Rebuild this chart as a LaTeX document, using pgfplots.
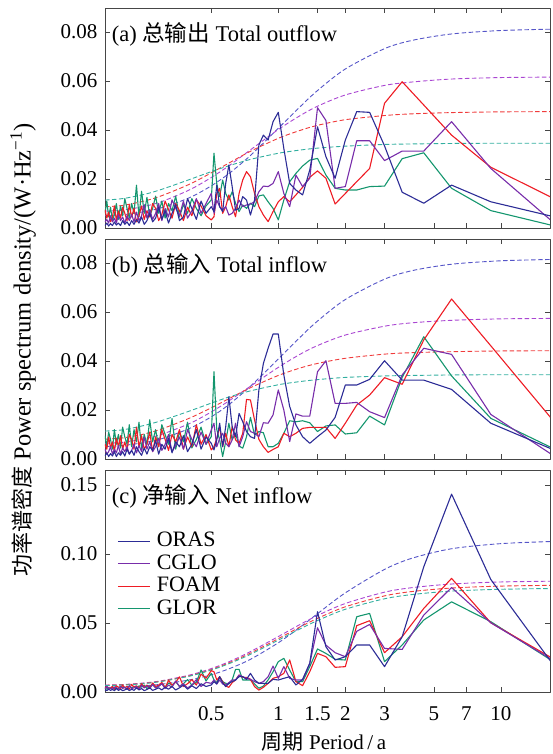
\documentclass[border=0pt]{standalone}
\usepackage{fontspec}
\setmainfont{Liberation Serif}
\newfontfamily\cjk{Noto Sans CJK SC}
\usepackage{pgfplots}
\usepackage{pgfplotstable}
\pgfplotsset{compat=1.18}
\definecolor{oras}{RGB}{44,44,150}
\definecolor{cglo}{RGB}{120,45,170}
\definecolor{foam}{RGB}{238,28,36}
\definecolor{glor}{RGB}{20,150,110}
\definecolor{orasd}{RGB}{85,85,200}
\definecolor{cglod}{RGB}{170,70,210}
\definecolor{foamd}{RGB}{240,60,60}
\definecolor{glord}{RGB}{50,175,160}
\definecolor{axgray}{RGB}{70,70,70}

% solid spectra: k = harmonic, period = 18/k years
\pgfplotstableread{
k o c f g
1 0.0042 0.0007 0.0112 0.0005
2 0.0107 0.0243 0.0248 0.0071
3 0.0175 0.0434 0.0379 0.0162
4 0.0101 0.0314 0.0502 0.0307
5 0.0146 0.0314 0.0597 0.0283
6 0.0335 0.0275 0.0509 0.0171
7 0.0472 0.0356 0.0243 0.0169
8 0.0475 0.0356 0.0189 0.0155
9 0.0359 0.0169 0.0141 0.0155
10 0.0203 0.0162 0.0098 0.0162
11 0.0291 0.0439 0.0203 0.0216
12 0.0413 0.0491 0.0233 0.0284
13 0.0237 0.0203 0.0207 0.0277
14 0.0135 0.0169 0.0166 0.0253
15 0.0155 0.0216 0.0135 0.0223
16 0.0182 0.0087 0.0107 0.0189
17 0.0325 0.0141 0.0128 0.0114
18 0.0472 0.0230 0.0107 0.0033
19 0.0434 0.0182 0.0067 0.0080
20 0.0359 0.0169 0.0026 0.0107
21 0.0379 0.0171 0.0053 0.0135
22 0.0339 0.0148 0.0087 0.0131
23 0.0114 0.0107 0.0141 0.0087
24 0.0053 0.0098 0.0209 0.0101
25 0.0114 0.0094 0.0230 0.0080
26 0.0128 0.0087 0.0196 0.0094
27 0.0080 0.0114 0.0141 0.0067
28 0.0073 0.0080 0.0046 0.0101
29 0.0169 0.0060 0.0087 0.0148
30 0.0257 0.0053 0.0135 0.0114
31 0.0182 0.0087 0.0087 0.0141
32 0.0067 0.0073 0.0060 0.0196
33 0.0087 0.0087 0.0162 0.0128
34 0.0175 0.0114 0.0141 0.0180
35 0.0067 0.0060 0.0046 0.0305
36 0.0087 0.0141 0.0033 0.0114
38 .0060 .0100 .0050 .0090
40 .0110 .0060 .0090 .0050
42 .0035 .0120 .0115 .0080
44 .0080 .0070 .0050 .0120
46 .0120 .0040 .0085 .0060
48 .0045 .0110 .0030 .0095
50 .0030 .0050 .0070 .0045
52 .0095 .0080 .0100 .0130
54 .0060 .0115 .0040 .0070
56 .0020 .0045 .0075 .0100
58 .0070 .0080 .0110 .0040
60 .0035 .0030 .0055 .0110
62 .0085 .0100 .0030 .0060
64 .0040 .0060 .0080 .0130
66 .0025 .0035 .0100 .0080
68 .0060 .0075 .0045 .0050
70 .0030 .0040 .0070 .0125
72 .0015 .0095 .0035 .0060
74 .0045 .0050 .0090 .0150
76 .0020 .0030 .0050 .0045
78 .0035 .0065 .0025 .0175
80 .0015 .0025 .0080 .0060
82 .0030 .0055 .0045 .0100
84 .0010 .0030 .0095 .0040
86 .0025 .0050 .0030 .0080
88 .0015 .0020 .0060 .0120
90 .0030 .0045 .0085 .0050
92 .0010 .0030 .0040 .0090
94 .0020 .0055 .0070 .0035
96 .0012 .0020 .0030 .0100
98 .0025 .0040 .0090 .0055
100 .0010 .0025 .0045 .0030
102 .0018 .0050 .0025 .0085
104 .0008 .0020 .0065 .0045
106 .0020 .0035 .0040 .0110
108 .0010 .0025 .0075 .0060
}\tA

\pgfplotstableread{
k o c f g
1 0.0030 0.0002 0.0134 0.0034
2 0.0146 0.0182 0.0462 0.0166
3 0.0284 0.0427 0.0653 0.0339
4 0.0322 0.0452 0.0486 0.0499
5 0.0322 0.0343 0.0305 0.0333
6 0.0401 0.0169 0.0332 0.0139
7 0.0325 0.0193 0.0261 0.0175
8 0.0302 0.0231 0.0220 0.0107
9 0.0302 0.0227 0.0146 0.0102
10 0.0170 0.0227 0.0084 0.0139
11 0.0118 0.0401 0.0129 0.0135
12 0.0091 0.0356 0.0129 0.0112
13 0.0064 0.0175 0.0129 0.0148
14 0.0091 0.0175 0.0125 0.0156
15 0.0139 0.0184 0.0105 0.0152
16 0.0214 0.0071 0.0091 0.0156
17 0.0343 0.0200 0.0105 0.0105
18 0.0510 0.0282 0.0050 0.0064
19 0.0510 0.0180 0.0039 0.0050
20 0.0452 0.0146 0.0027 0.0050
21 0.0390 0.0148 0.0050 0.0107
22 0.0282 0.0091 0.0080 0.0112
23 0.0084 0.0105 0.0159 0.0098
24 0.0091 0.0112 0.0241 0.0170
25 0.0112 0.0152 0.0243 0.0091
26 0.0152 0.0091 0.0105 0.0044
27 0.0186 0.0050 0.0064 0.0053
28 0.0091 0.0146 0.0078 0.0105
29 0.0132 0.0078 0.0132 0.0078
30 0.0254 0.0050 0.0050 0.0146
31 0.0132 0.0064 0.0105 0.0071
32 0.0050 0.0105 0.0050 0.0010
33 0.0146 0.0084 0.0132 0.0078
34 0.0078 0.0050 0.0084 0.0120
35 0.0037 0.0146 0.0050 0.0356
36 0.0064 0.0118 0.0037 0.0091
38 .0090 .0060 .0100 .0060
40 .0040 .0110 .0060 .0130
42 .0120 .0050 .0140 .0080
44 .0060 .0080 .0050 .0045
46 .0030 .0120 .0090 .0150
48 .0095 .0040 .0040 .0070
50 .0050 .0090 .0120 .0110
52 .0070 .0055 .0070 .0040
54 .0025 .0030 .0100 .0165
56 .0085 .0100 .0035 .0060
58 .0040 .0060 .0080 .0100
60 .0060 .0035 .0120 .0140
62 .0020 .0085 .0050 .0050
64 .0075 .0050 .0090 .0120
66 .0035 .0030 .0030 .0070
68 .0050 .0070 .0110 .0160
70 .0020 .0040 .0060 .0060
72 .0045 .0090 .0040 .0100
74 .0015 .0030 .0095 .0040
76 .0030 .0055 .0050 .0150
78 .0050 .0025 .0130 .0070
80 .0015 .0060 .0040 .0120
82 .0035 .0035 .0080 .0050
84 .0020 .0020 .0100 .0140
86 .0040 .0050 .0035 .0060
88 .0012 .0030 .0070 .0090
90 .0030 .0045 .0040 .0130
92 .0015 .0020 .0095 .0045
94 .0025 .0055 .0050 .0100
96 .0010 .0025 .0085 .0060
98 .0030 .0040 .0030 .0120
100 .0012 .0020 .0070 .0040
102 .0022 .0050 .0045 .0080
104 .0010 .0030 .0090 .0110
106 .0025 .0020 .0040 .0050
108 .0012 .0040 .0060 .0095
}\tB

\pgfplotstableread{
k o c f g
1 0.0152 0.0209 0.0222 0.0200
2 0.0816 0.0502 0.0502 0.0510
3 0.1435 0.0758 0.0824 0.0654
4 0.0908 0.0558 0.0606 0.0522
5 0.0401 0.0309 0.0401 0.0341
6 0.0184 0.0316 0.0285 0.0220
7 0.0341 0.0490 0.0517 0.0570
8 0.0341 0.0440 0.0481 0.0546
9 0.0256 0.0256 0.0184 0.0232
10 0.0232 0.0285 0.0179 0.0237
11 0.0328 0.0340 0.0256 0.0280
12 0.0582 0.0466 0.0280 0.0312
13 0.0208 0.0208 0.0147 0.0184
14 0.0092 0.0087 0.0046 0.0075
15 0.0051 0.0087 0.0075 0.0075
16 0.0111 0.0099 0.0232 0.0159
17 0.0099 0.0184 0.0135 0.0244
18 0.0087 0.0099 0.0111 0.0220
19 0.0092 0.0188 0.0099 0.0147
20 0.0063 0.0111 0.0063 0.0087
21 0.0063 0.0075 0.0034 0.0043
22 0.0063 0.0063 0.0014 0.0027
23 0.0087 0.0075 0.0039 0.0058
24 0.0135 0.0092 0.0092 0.0087
25 0.0092 0.0099 0.0106 0.0087
26 0.0111 0.0111 0.0106 0.0087
27 0.0111 0.0123 0.0123 0.0164
28 0.0087 0.0087 0.0087 0.0164
29 0.0075 0.0087 0.0068 0.0087
30 0.0063 0.0068 0.0034 0.0058
31 0.0039 0.0051 0.0043 0.0063
32 0.0068 0.0058 0.0075 0.0075
33 0.0111 0.0087 0.0111 0.0111
34 0.0058 0.0058 0.0087 0.0068
35 0.0075 0.0087 0.0147 0.0087
36 0.0051 0.0063 0.0155 0.0135
38 .0040 .0070 .0100 .0080
40 .0060 .0040 .0130 .0160
42 .0025 .0090 .0050 .0070
44 .0045 .0050 .0090 .0050
46 .0020 .0030 .0060 .0090
48 .0050 .0060 .0040 .0060
50 .0030 .0040 .0110 .0040
52 .0015 .0080 .0070 .0075
54 .0040 .0035 .0050 .0050
56 .0020 .0050 .0085 .0065
58 .0035 .0025 .0030 .0035
60 .0015 .0060 .0070 .0060
62 .0030 .0040 .0050 .0045
64 .0020 .0030 .0040 .0030
66 .0012 .0055 .0065 .0055
68 .0030 .0025 .0030 .0040
70 .0018 .0045 .0050 .0025
72 .0010 .0030 .0035 .0050
74 .0025 .0050 .0060 .0035
76 .0015 .0020 .0025 .0045
78 .0030 .0040 .0045 .0025
80 .0012 .0030 .0035 .0040
82 .0020 .0025 .0055 .0030
84 .0010 .0045 .0020 .0045
86 .0025 .0020 .0040 .0020
88 .0015 .0035 .0030 .0035
90 .0010 .0025 .0050 .0030
92 .0020 .0040 .0025 .0040
94 .0012 .0020 .0035 .0025
96 .0025 .0030 .0045 .0030
98 .0010 .0035 .0020 .0020
100 .0018 .0020 .0040 .0035
102 .0012 .0030 .0030 .0025
104 .0020 .0025 .0025 .0030
106 .0010 .0040 .0040 .0020
108 .0015 .0020 .0030 .0030
}\tC

% dashed red-noise reference curves (period in years)
\pgfplotstableread{
p o c f g
0.1667 0.0051 0.0069 0.0087 0.0114
0.2 0.0054 0.0073 0.0092 0.0120
0.25 0.0067 0.0088 0.0110 0.0137
0.3 0.0083 0.0108 0.0132 0.0158
0.4 0.0124 0.0156 0.0179 0.0198
0.5 0.0172 0.0206 0.0225 0.0230
0.6 0.0222 0.0254 0.0265 0.0254
0.75 0.0296 0.0319 0.0313 0.0280
1 0.0407 0.0402 0.0366 0.0305
1.25 0.0494 0.0458 0.0398 0.0318
1.5 0.0561 0.0497 0.0419 0.0326
2 0.0649 0.0543 0.0442 0.0334
3 0.0732 0.0582 0.0459 0.0341
4 0.0766 0.0596 0.0466 0.0343
6 0.0792 0.0608 0.0471 0.0345
10 0.0806 0.0614 0.0474 0.0346
18 0.0812 0.0616 0.0475 0.0346
}\dA
\pgfplotstableread{
p o c f g
0.1667 0.0051 0.0064 0.0081 0.0114
0.2 0.0055 0.0068 0.0086 0.0119
0.25 0.0067 0.0082 0.0102 0.0137
0.3 0.0083 0.0101 0.0123 0.0157
0.4 0.0125 0.0145 0.0167 0.0196
0.5 0.0172 0.0192 0.0209 0.0228
0.6 0.0222 0.0237 0.0246 0.0253
0.75 0.0297 0.0297 0.0291 0.0278
1 0.0408 0.0374 0.0341 0.0303
1.25 0.0496 0.0427 0.0371 0.0316
1.5 0.0563 0.0463 0.0390 0.0324
2 0.0651 0.0506 0.0411 0.0333
3 0.0734 0.0542 0.0428 0.0339
4 0.0769 0.0556 0.0434 0.0341
6 0.0795 0.0566 0.0438 0.0343
10 0.0809 0.0572 0.0441 0.0344
18 0.0815 0.0574 0.0442 0.0344
}\dB
\pgfplotstableread{
p o c f g
0.1667 0.0034 0.0050 0.0049 0.0047
0.2 0.0037 0.0054 0.0052 0.0050
0.25 0.0045 0.0066 0.0063 0.0061
0.3 0.0057 0.0082 0.0079 0.0077
0.4 0.0088 0.0123 0.0118 0.0115
0.5 0.0125 0.0170 0.0163 0.0159
0.6 0.0168 0.0219 0.0211 0.0205
0.75 0.0237 0.0293 0.0282 0.0273
1 0.0357 0.0402 0.0387 0.0376
1.25 0.0469 0.0489 0.0471 0.0457
1.5 0.0568 0.0555 0.0534 0.0518
2 0.0719 0.0642 0.0618 0.0600
3 0.0889 0.0724 0.0697 0.0676
4 0.0971 0.0757 0.0729 0.0707
6 0.1039 0.0783 0.0754 0.0732
10 0.1076 0.0798 0.0768 0.0745
18 0.1093 0.0804 0.0774 0.0751
}\dC

\pgfplotsset{
  psdstyle/.style={
    scale only axis, width=445pt,
    xmin=0.16667, xmax=16.6,
    xtick={0.5,1,1.5,2,3,5,7,10},
    minor xtick={},
    tick align=inside, major tick length=5pt,
    axis line style={line width=0.9pt, draw=axgray},
    every tick/.style={line width=0.8pt, draw=axgray},
    scaled y ticks=false,
    yticklabel style={/pgf/number format/fixed, /pgf/number format/fixed zerofill, /pgf/number format/precision=2, xshift=-4pt},
    tick label style={font=\fontsize{21}{21}\selectfont},
    xticklabel style={yshift=-11pt},
  },
}

\begin{document}
\begin{tikzpicture}[line join=round]
% ---------- (a) ----------
\begin{semilogxaxis}[psdstyle, at={(105pt,526pt)}, anchor=south west, height=220pt,
  /pgf/number format/assume math mode=true,
  ymin=0, ymax=0.0898, ytick={0,0.02,0.04,0.06,0.08}, xticklabels={}]
\addplot[orasd, line width=0.9pt, dash pattern=on 4.5pt off 2.5pt, smooth, forget plot] table[x=p,y=o] {\dA};
\addplot[cglod, line width=0.9pt, dash pattern=on 4.5pt off 2.5pt, smooth, forget plot] table[x=p,y=c] {\dA};
\addplot[foamd, line width=0.9pt, dash pattern=on 4.5pt off 2.5pt, smooth, forget plot] table[x=p,y=f] {\dA};
\addplot[glord, line width=0.9pt, dash pattern=on 4.5pt off 2.5pt, smooth, forget plot] table[x=p,y=g] {\dA};
\addplot[glor, line width=1.1pt] table[x expr=18/\thisrow{k}, y=g] {\tA};
\addplot[foam, line width=1.1pt] table[x expr=18/\thisrow{k}, y=f] {\tA};
\addplot[cglo, line width=1.1pt] table[x expr=18/\thisrow{k}, y=c] {\tA};
\addplot[oras, line width=1.1pt] table[x expr=18/\thisrow{k}, y=o] {\tA};
\node[anchor=west, font=\fontsize{22.5}{22.5}\selectfont, inner sep=0pt] at (rel axis cs:0.015,0.882) {(a) {\cjk 总输出} Total outflow};
\end{semilogxaxis}
% ---------- (b) ----------
\begin{semilogxaxis}[psdstyle, at={(105pt,295pt)}, anchor=south west, height=220pt,
  /pgf/number format/assume math mode=true,
  ymin=0, ymax=0.0898, ytick={0,0.02,0.04,0.06,0.08}, xticklabels={}]
\addplot[orasd, line width=0.9pt, dash pattern=on 4.5pt off 2.5pt, smooth, forget plot] table[x=p,y=o] {\dB};
\addplot[cglod, line width=0.9pt, dash pattern=on 4.5pt off 2.5pt, smooth, forget plot] table[x=p,y=c] {\dB};
\addplot[foamd, line width=0.9pt, dash pattern=on 4.5pt off 2.5pt, smooth, forget plot] table[x=p,y=f] {\dB};
\addplot[glord, line width=0.9pt, dash pattern=on 4.5pt off 2.5pt, smooth, forget plot] table[x=p,y=g] {\dB};
\addplot[glor, line width=1.1pt] table[x expr=18/\thisrow{k}, y=g] {\tB};
\addplot[foam, line width=1.1pt] table[x expr=18/\thisrow{k}, y=f] {\tB};
\addplot[cglo, line width=1.1pt] table[x expr=18/\thisrow{k}, y=c] {\tB};
\addplot[oras, line width=1.1pt] table[x expr=18/\thisrow{k}, y=o] {\tB};
\node[anchor=west, font=\fontsize{22.5}{22.5}\selectfont, inner sep=0pt] at (rel axis cs:0.015,0.882) {(b) {\cjk 总输入} Total inflow};
\end{semilogxaxis}
% ---------- (c) ----------
\begin{semilogxaxis}[psdstyle, at={(105pt,62pt)}, anchor=south west, height=222pt,
  /pgf/number format/assume math mode=true,
  ymin=0, ymax=0.161, ytick={0,0.05,0.10,0.15},
  xticklabels={0.5,1,1.5,2,3,5,7,10},
  legend style={at={(rel axis cs:0.027,0.73)}, anchor=north west, draw=none, fill=none,
     font=\fontsize{22}{22}\selectfont, row sep=0pt, inner sep=0pt,
     nodes={inner sep=1.5pt, text height=15pt, text depth=4.5pt},
     /tikz/every odd column/.append style={column sep=5pt}},
  legend cell align=left,
  legend image code/.code={\draw[#1, line width=1.1pt] (0pt,0pt) -- (32pt,0pt);},
  reverse legend]
\addplot[orasd, line width=0.9pt, dash pattern=on 4.5pt off 2.5pt, smooth, forget plot] table[x=p,y=o] {\dC};
\addplot[cglod, line width=0.9pt, dash pattern=on 4.5pt off 2.5pt, smooth, forget plot] table[x=p,y=c] {\dC};
\addplot[foamd, line width=0.9pt, dash pattern=on 4.5pt off 2.5pt, smooth, forget plot] table[x=p,y=f] {\dC};
\addplot[glord, line width=0.9pt, dash pattern=on 4.5pt off 2.5pt, smooth, forget plot] table[x=p,y=g] {\dC};
\addplot[glor, line width=1.1pt] table[x expr=18/\thisrow{k}, y=g] {\tC};
\addlegendentry{GLOR}
\addplot[foam, line width=1.1pt] table[x expr=18/\thisrow{k}, y=f] {\tC};
\addlegendentry{FOAM}
\addplot[cglo, line width=1.1pt] table[x expr=18/\thisrow{k}, y=c] {\tC};
\addlegendentry{CGLO}
\addplot[oras, line width=1.1pt] table[x expr=18/\thisrow{k}, y=o] {\tC};
\addlegendentry{ORAS}
\node[anchor=west, font=\fontsize{22.5}{22.5}\selectfont, inner sep=0pt] at (rel axis cs:0.015,0.882) {(c) {\cjk 净输入} Net inflow};
\end{semilogxaxis}
% labels
\node[rotate=90, font=\fontsize{24.5}{24.5}\selectfont, inner sep=0pt] at (23pt,404pt)
  {{\cjk\fontsize{22}{22}\selectfont 功率谱密度} Power spectrum density/(W·Hz\textsuperscript{−1})};
\node[font=\fontsize{21}{21}\selectfont, inner sep=0pt] at (324pt,12pt) {{\cjk 周期} Period\,/\,a};
\pgfresetboundingbox
\useasboundingbox (0,0) rectangle (553pt,754pt);
\end{tikzpicture}
\end{document}
